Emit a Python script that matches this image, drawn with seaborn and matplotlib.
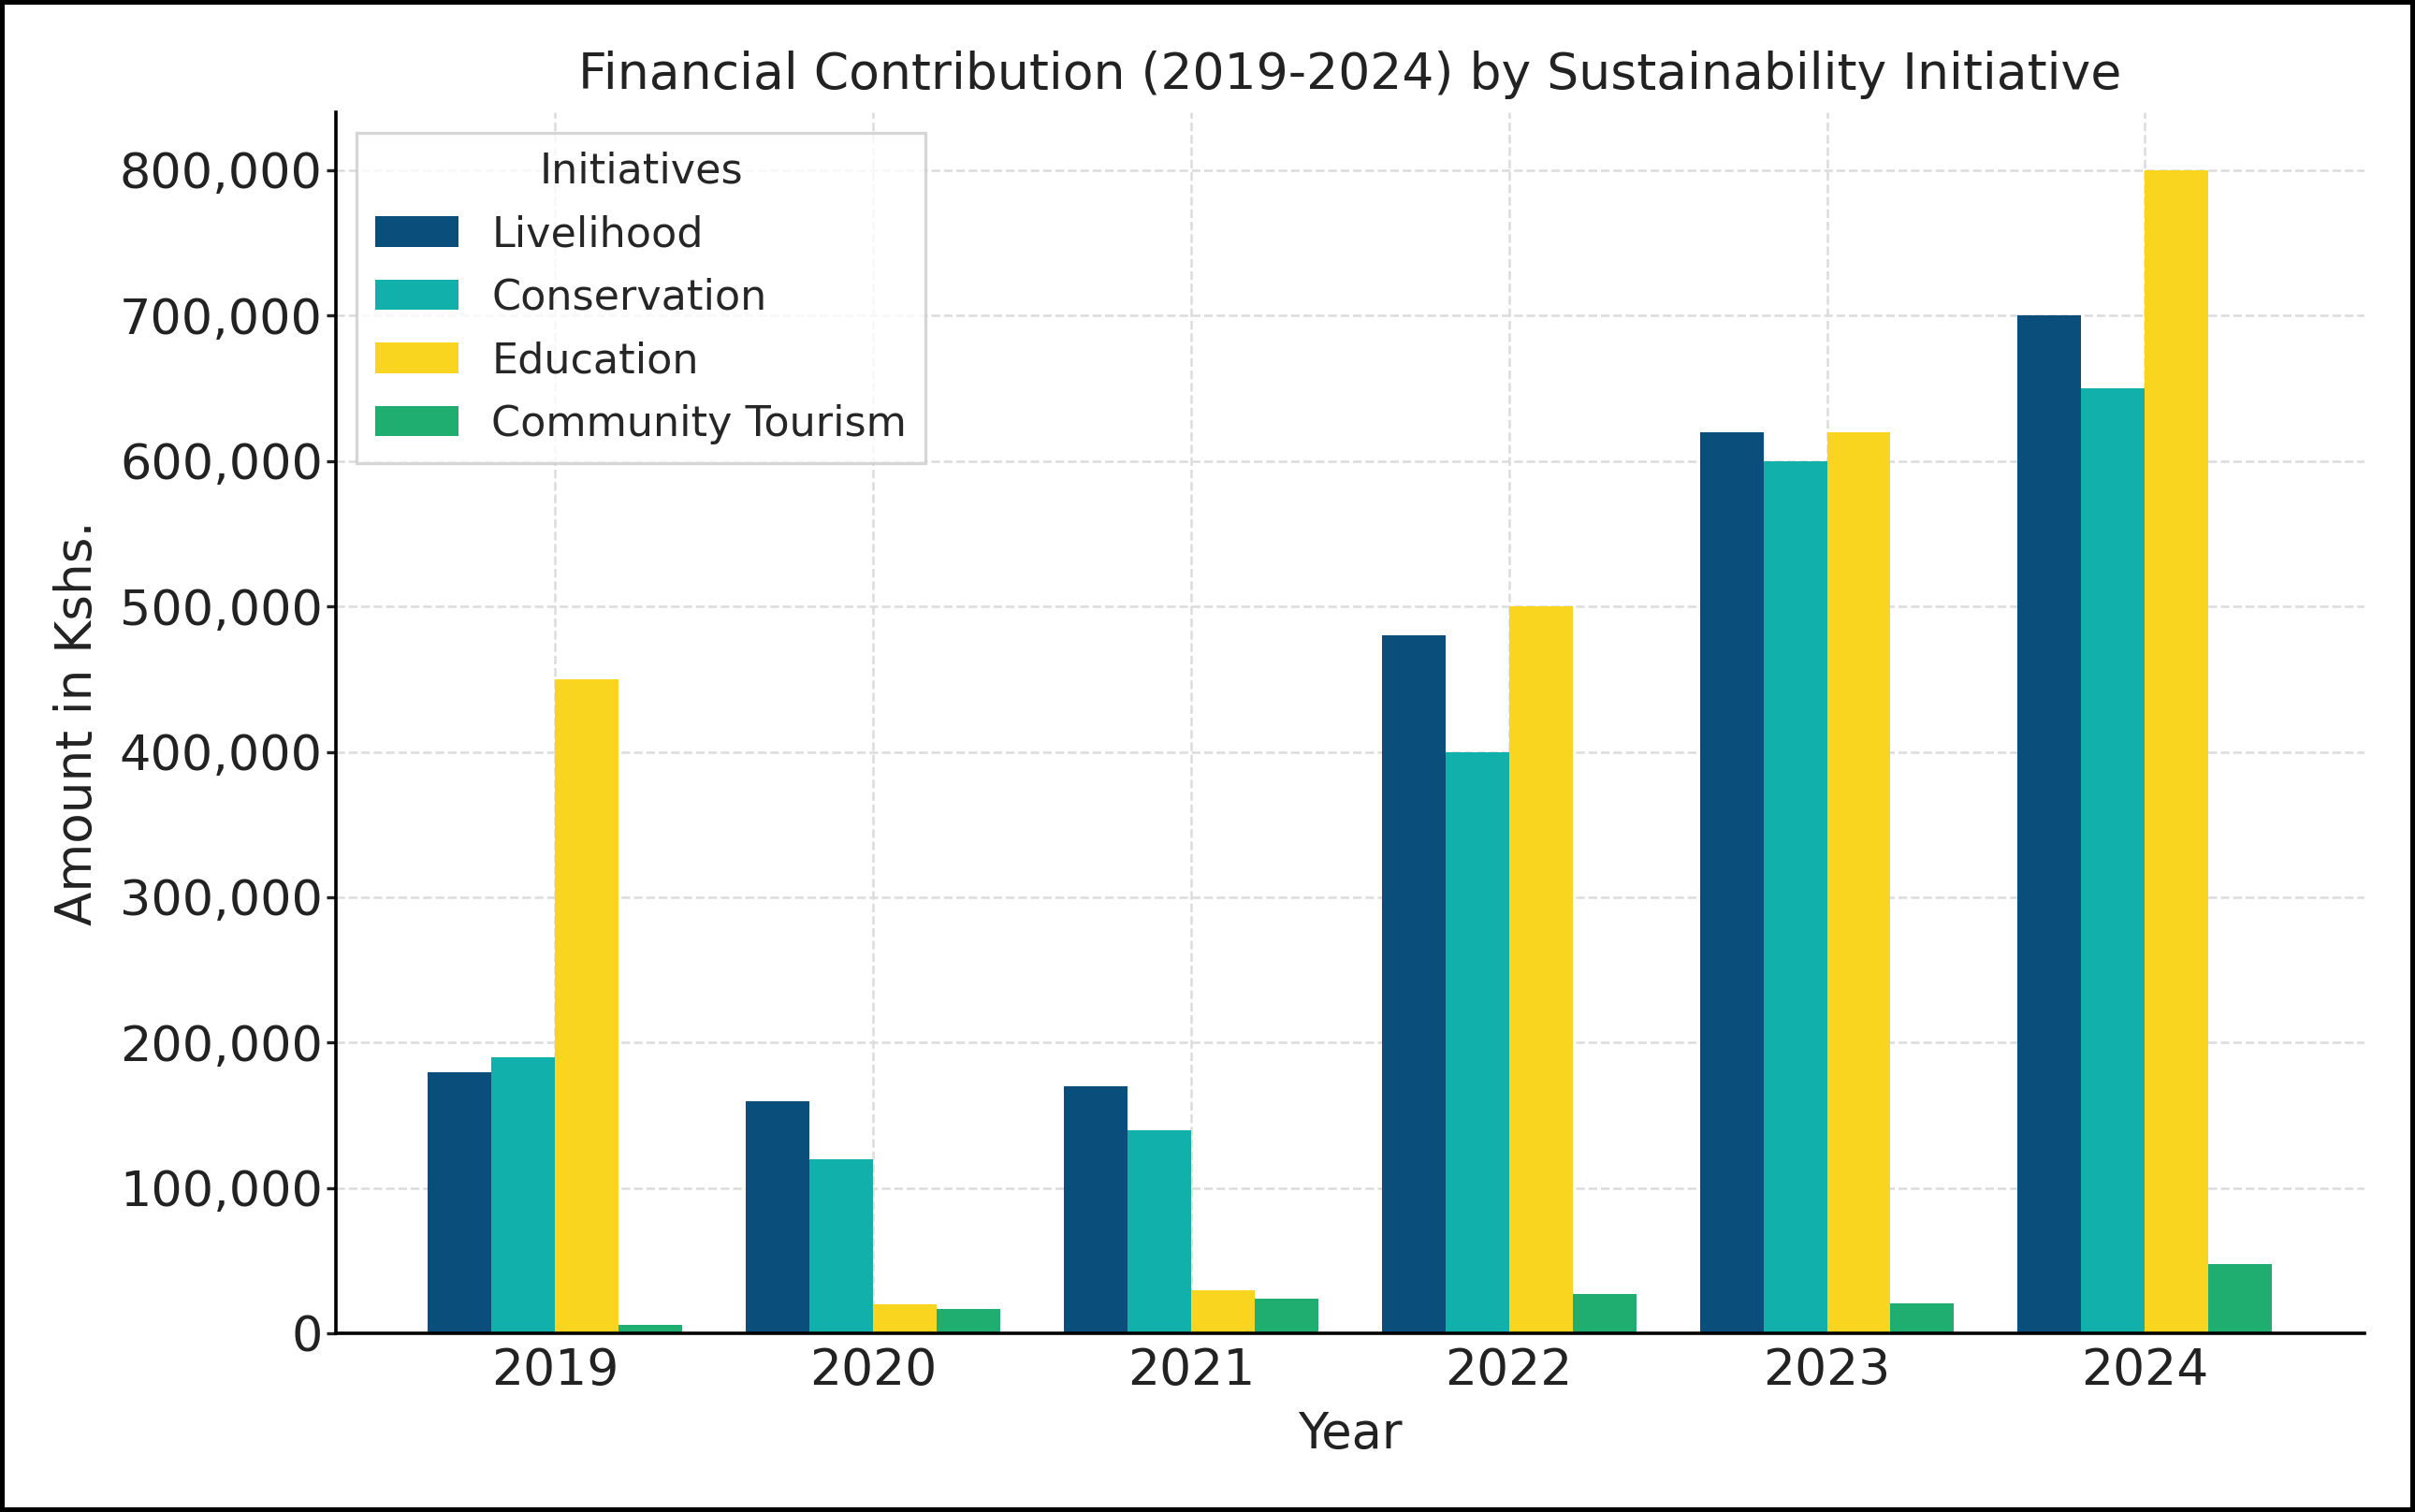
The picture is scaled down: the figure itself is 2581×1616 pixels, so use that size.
import matplotlib
matplotlib.use("Agg")
import matplotlib.pyplot as plt
from matplotlib.ticker import FuncFormatter
import seaborn as sns
import pandas as pd

years = ["2019", "2020", "2021", "2022", "2023", "2024"]
initiatives = ["Livelihood", "Conservation", "Education", "Community Tourism"]
livelihood = [180000, 160000, 170000, 480000, 620000, 700000]
conservation = [190000, 120000, 140000, 400000, 600000, 650000]
education = [450000, 20000, 30000, 500000, 620000, 800000]
community_tourism = [6000, 17000, 24000, 27000, 21000, 48000]
colors = ["#0a4f7c", "#12b0aa", "#fad51f", "#1fae6f"]

series = [livelihood, conservation, education, community_tourism]
rows = []
for name, vals in zip(initiatives, series):
    for y, v in zip(years, vals):
        rows.append({"Year": y, "Initiative": name, "Amount": v})
df = pd.DataFrame(rows)

sns.set_theme(style="whitegrid")
plt.rcParams['font.family'] = ['DejaVu Sans']

fig = plt.figure(figsize=(12.905, 8.08), dpi=200)
fig.patch.set_facecolor("white")
fig.patch.set_edgecolor("black")
fig.patch.set_linewidth(3)
ax = fig.add_axes([0.139, 0.118, 0.840, 0.808])

sns.barplot(data=df, x="Year", y="Amount", hue="Initiative", order=years,
            hue_order=initiatives, palette=dict(zip(initiatives, colors)),
            width=0.8, saturation=1, ax=ax, edgecolor="none", linewidth=0)

ax.set_xlim(-0.69, 5.69)
ax.set_ylim(0, 840000)
ax.set_yticks(range(0, 800001, 100000))
ax.yaxis.set_major_formatter(FuncFormatter(lambda v, p: f"{int(v):,}"))

ax.set_facecolor("white")
ax.grid(True, axis="both", linestyle="--", color="#dcdcdc", linewidth=0.9)
ax.set_axisbelow(True)
for s in ["top", "right"]:
    ax.spines[s].set_visible(False)
for s in ["left", "bottom"]:
    ax.spines[s].set_color("black")
    ax.spines[s].set_linewidth(1.3)
ax.tick_params(axis="y", labelsize=18.9, colors="#222222", direction="out",
               length=3.5, width=1.2, left=True, pad=1.5)
ax.tick_params(axis="x", labelsize=19.3, colors="#222222", length=0,
               bottom=False, pad=5)

ax.set_title("Financial Contribution (2019-2024) by Sustainability Initiative",
             fontsize=19.3, color="#222222", pad=9)
ax.set_xlabel("Year", fontsize=19, color="#222222", labelpad=5.5)
ax.set_ylabel("Amount in Kshs.", fontsize=19.2, color="#222222", labelpad=7)

leg = ax.legend(title="Initiatives", loc="upper left", fontsize=16,
                title_fontsize=16, frameon=True, fancybox=False,
                handlelength=2.0, handleheight=0.75, borderpad=0.45,
                labelspacing=0.55)
leg.get_frame().set_edgecolor("#cccccc")
leg.get_frame().set_linewidth(1.2)

fig.savefig("out.png", dpi=200, facecolor=fig.get_facecolor(),
            edgecolor=fig.get_edgecolor())
